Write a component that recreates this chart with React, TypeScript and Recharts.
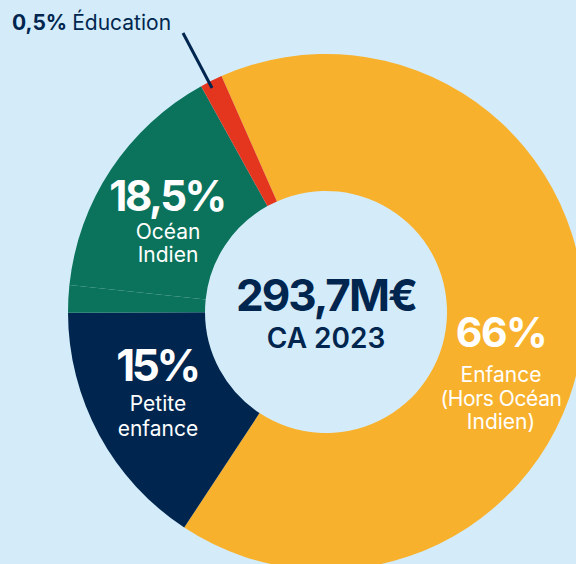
import { PieChart, Pie, Cell } from 'recharts';

// shares as drawn in the picture (the green ring has a seam, so it is two cells)
const segments = ['Enfance', 'Petite enfance', 'Océan Indien (bas)', 'Océan Indien', 'Éducation'];
const shares = [65.9, 15.7, 1.7, 15.3, 1.4];
const colors = ['#F8B12D', '#00264F', '#0B735C', '#0B735C', '#E4361F'];

const NAVY = '#00264F';
const BG = '#D4ECFA';
const FONT = 'Inter, "Noto Sans", sans-serif';

const data = segments.map((name, i) => ({ name, value: shares[i] }));

export default function App() {
    return (
        <div style={{ position: 'fixed', left: 0, top: 0, width: 576, height: 564, background: BG, overflow: 'hidden' }}>
            <PieChart width={576} height={564} margin={{ top: 0, right: 0, bottom: 0, left: 0 }}>
                <Pie
                    data={data}
                    dataKey="value"
                    cx={326}
                    cy={312}
                    innerRadius={121}
                    outerRadius={258}
                    startAngle={113.9}
                    endAngle={113.9 - 360}
                    stroke="none"
                    isAnimationActive={false}
                >
                    {data.map((d, i) => (
                        <Cell key={d.name} fill={colors[i]} />
                    ))}
                </Pie>
            </PieChart>
            <svg width={576} height={564} style={{ position: 'absolute', left: 0, top: 0 }} fontFamily={FONT}>
                <line x1={183} y1={33} x2={212} y2={88} stroke={NAVY} strokeWidth={3} />
                <text x={12} y={30} fontSize={21} fill={NAVY}>
                    <tspan fontWeight={700}>0,5%</tspan>
                    <tspan dx={5}>Éducation</tspan>
                </text>

                <g textAnchor="middle" fill="#fff">
                    <text x={167} y={211} fontSize={42} fontWeight={700} letterSpacing={-2.5}>18,5%</text>
                    <text x={168} y={239} fontSize={21}>Océan</text>
                    <text x={168} y={262} fontSize={21}>Indien</text>

                    <text x={157} y={381} fontSize={44} fontWeight={700} letterSpacing={-3.5}>15%</text>
                    <text x={158} y={411} fontSize={21}>Petite</text>
                    <text x={158} y={436} fontSize={21}>enfance</text>

                    <text x={501} y={347} fontSize={41} fontWeight={700} letterSpacing={-1.5}>66%</text>
                    <text x={501} y={382} fontSize={21}>Enfance</text>
                    <text x={501} y={406} fontSize={21} letterSpacing={-0.4}>(Hors Océan</text>
                    <text x={501} y={429} fontSize={21}>Indien)</text>
                </g>

                <g textAnchor="middle" fill={NAVY}>
                    <text x={326} y={311} fontSize={44} fontWeight={700} letterSpacing={-2}>293,7M€</text>
                    <text x={326} y={348} fontSize={28} fontWeight={600}>CA 2023</text>
                </g>
            </svg>
        </div>
    );
}
